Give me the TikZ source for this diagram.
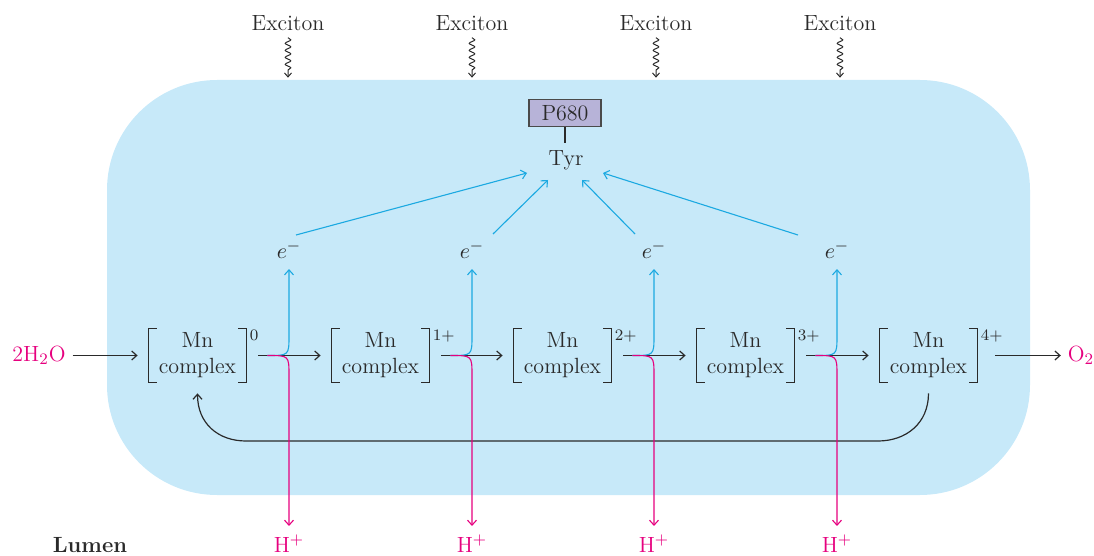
\documentclass[tikz,border=0pt]{standalone}
\usepackage{fontspec}
\usetikzlibrary{arrows.meta,decorations.pathmorphing,calc}
\definecolor{bgblue}{HTML}{C7E9F9}
\definecolor{mag}{HTML}{E6007E}
\definecolor{cy}{HTML}{1BA9E1}
\definecolor{dk}{HTML}{2A2A2A}
\definecolor{lav}{HTML}{B7B3D8}
\begin{document}
\begin{tikzpicture}[x=0.5pt,y=-0.5pt,font=\fontsize{11}{13}\selectfont,
  tip/.style={-{Straight Barb[length=2.5pt,width=4.5pt]}},
  dkline/.style={draw=dk,line width=0.6pt},
  cyline/.style={draw=cy,line width=0.55pt},
  magline/.style={draw=mag,line width=0.55pt},
  mn/.style={align=center,inner sep=0pt,minimum width=48.5pt,minimum height=26.5pt,text=dk},
  sup/.style={anchor=north west,inner sep=0.5pt,font=\fontsize{8}{9}\selectfont,text=dk},
  wavy/.style={draw=dk,line width=0.5pt,decorate,
    decoration={snake,amplitude=1.4pt,segment length=3.5pt,post length=2.5pt},
    -{Straight Barb[length=2pt,width=3.5pt]}},
  lbl/.style={text=dk},
  mlbl/.style={text=mag}]
\useasboundingbox (0,0) rectangle (1094,556);
\fill[bgblue,rounded corners=55pt] (107,80) rectangle (1030,495);

% excitons
\foreach \i/\x in {1/288,2/472,3/656,4/840}{
  \node[lbl] (x\i) at (\x,23) {Exciton};
  \draw[wavy] (x\i.south) -- ++(0,40);
}

% P680 and Tyr
\node[draw=dk!85,fill=lav,line width=0.6pt,minimum width=36pt,minimum height=13.5pt,inner sep=1pt,text=dk] (p680) at (565,113) {P680};
\node[lbl] (tyr) at (566,160) {Tyr};
\draw[dkline] (p680.south) -- (p680.south |- tyr.north);

% Mn complexes
\node[mn] (m1) at (197.5,355.5) {Mn\\complex};
\node[mn] (m2) at (380.5,355.5) {Mn\\complex};
\node[mn] (m3) at (562.5,355.5) {Mn\\complex};
\node[mn] (m4) at (745.5,355.5) {Mn\\complex};
\node[mn] (m5) at (928.5,355.5) {Mn\\complex};
\foreach \i in {1,...,5}{
  \draw[dkline] ([xshift=4pt]m\i.north west) -| (m\i.south west) -- ++(4pt,0)
    ([xshift=-4pt]m\i.north east) -| (m\i.south east) -- ++(-4pt,0);
}
\node[sup] (s1) at ([xshift=1pt]m1.north east) {0};
\node[sup] (s2) at ([xshift=1pt]m2.north east) {1+};
\node[sup] (s3) at ([xshift=1pt]m3.north east) {2+};
\node[sup] (s4) at ([xshift=1pt]m4.north east) {3+};
\node[sup] (s5) at ([xshift=1pt]m5.north east) {4+};

\node[mlbl] (h2o) at (39,355) {2H$_2$O};
\node[mlbl] (o2) at (1081,355) {O$_2$};

% e- and H+
\foreach \i/\x in {1/289,2/472,3/654,4/837}{
  \node[lbl,anchor=base] (e\i) at (\x,258) {$e^-$};
  \node[mlbl,anchor=base,inner sep=1pt] (h\i) at (\x,552) {H$^+$};
}
\node[text=dk,font=\fontsize{11}{13}\selectfont\bfseries,anchor=base,inner sep=1pt] (lumen) at (90,552) {Lumen};

% main chain
\draw[dkline,tip] (h2o.east |- m1.west) -- ([xshift=-5.5pt]m1.west);
\draw[dkline,tip] ([xshift=6pt]m1.east) -- ([xshift=-5.5pt]m2.west);
\draw[dkline,tip] ([xshift=6pt]m2.east) -- ([xshift=-5.5pt]m3.west);
\draw[dkline,tip] ([xshift=6pt]m3.east) -- ([xshift=-5.5pt]m4.west);
\draw[dkline,tip] ([xshift=6pt]m4.east) -- ([xshift=-5.5pt]m5.west);
\draw[dkline,tip] ([xshift=9pt]m5.east) -- (o2.west |- m5.east);

% return arrow
\coordinate (r1) at (878,441);
\coordinate (r2) at (246,441);
\draw[dkline,tip] ([yshift=-5.5pt]m5.south) .. controls +(0,30) and +(28,0) .. (r1)
  -- (r2) .. controls +(-28,0) and +(0,30) .. ([yshift=-5.5pt]m1.south);

% branches
\foreach \i in {1,2,3,4}{
  \coordinate (b\i) at ([xshift=10.5pt]m\i.east);
  \draw[cyline,tip,shorten >=2pt] (b\i) .. controls (b\i -| e\i) .. ($(b\i -| e\i)+(0,-20)$) -- (e\i);
  \draw[magline,tip,shorten >=3pt] (b\i) .. controls (b\i -| h\i) .. ($(b\i -| h\i)+(0,20)$) -- (h\i);
}

% electrons to Tyr
\draw[cyline,tip] ([shift={(7,-23)}]e1.base) -- ([shift={(-39,13)}]tyr.center);
\draw[cyline,tip] ([shift={(21,-24)}]e2.base) -- ([shift={(-18,20)}]tyr.center);
\draw[cyline,tip] ([shift={(-19,-24)}]e3.base) -- ([shift={(16,20)}]tyr.center);
\draw[cyline,tip] ([shift={(-39,-23)}]e4.base) -- ([shift={(37,13)}]tyr.center);
\end{tikzpicture}
\end{document}
